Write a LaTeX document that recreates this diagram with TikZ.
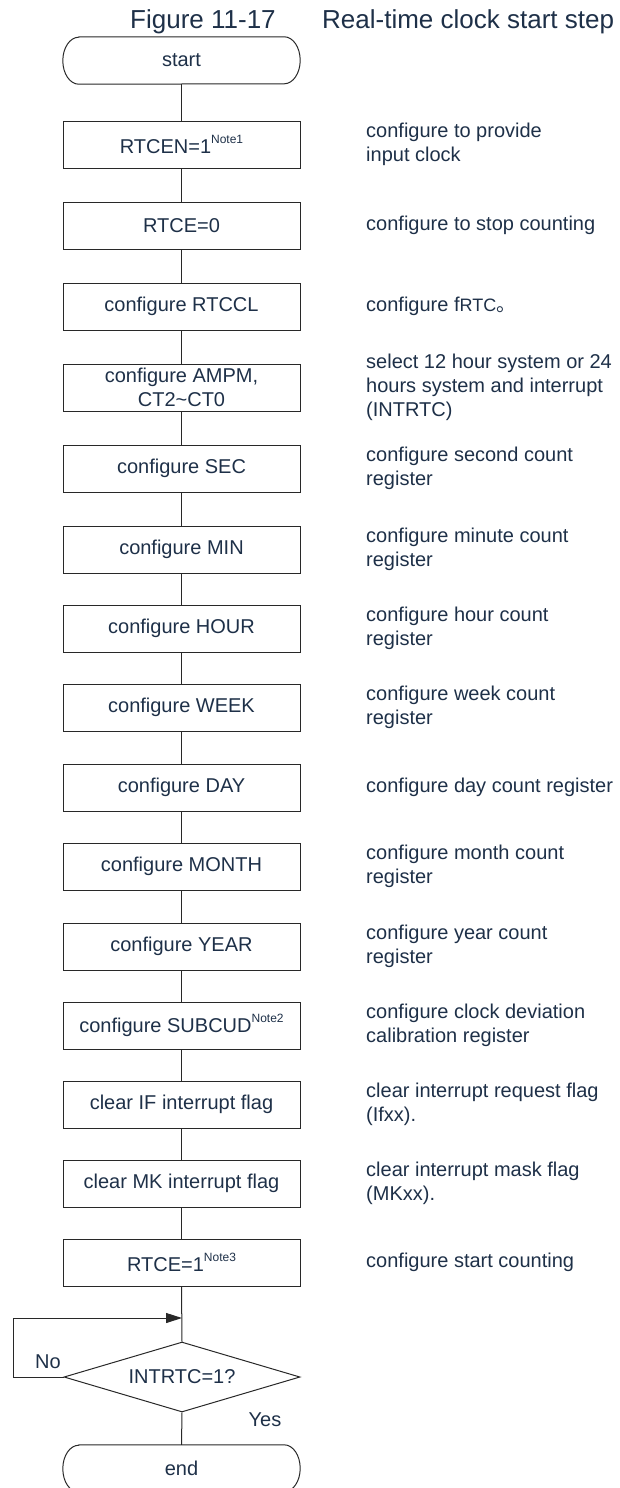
\documentclass[tikz,border=0pt]{standalone}
\usepackage{fontspec}
\setmainfont{Liberation Sans}
\newfontfamily\cjk{Noto Sans CJK SC}
\usetikzlibrary{shapes.geometric,arrows.meta}
\definecolor{txt}{RGB}{30,48,72}
\definecolor{ln}{RGB}{40,40,40}
\newcommand\notemark[1]{\raisebox{10pt}{\fontsize{12}{12}\selectfont #1}}
\newcommand\termshape[1]{%
  \draw[draw=ln,line width=1pt] ([xshift=16pt]#1.north west) -- ([xshift=-16pt]#1.north east)
    arc[start angle=90,end angle=-90,x radius=16pt,y radius=23.5pt]
    -- ([xshift=16pt]#1.south west)
    arc[start angle=270,end angle=90,x radius=16pt,y radius=23.5pt] -- cycle;}
\begin{document}
\begin{tikzpicture}[x=1pt,y=-1pt,
  every node/.style={text=txt, font=\fontsize{20}{24}\selectfont},
  proc/.style={draw=ln, line width=1pt, minimum width=237pt, minimum height=47pt, inner sep=0pt, align=center},
  term/.style={minimum width=237pt, minimum height=47pt, inner sep=0pt},
  desc/.style={anchor=west, inner sep=0pt, align=left},
  conn/.style={draw=ln, line width=1pt},
  ttl/.style={anchor=base west, inner sep=0pt, font=\fontsize{26}{30}\selectfont},
]
\useasboundingbox (0,0) rectangle (619,1488);

\node[ttl] (t1) at (130,29) {Figure 11-17};
\node[ttl] (t2) at (322,29) {Real-time clock start step};

\node[term] (start) at (181.5,60.5) {start};
\termshape{start}

\node[proc] (b1)  at (181.5,144.5)  {RTCEN=1\notemark{Note1}};
\node[proc] (b2)  at (181.5,225.5)  {RTCE=0};
\node[proc] (b3)  at (181.5,306.5)  {configure RTCCL};
\node[proc] (b4)  at (181.5,387.5)  {configure AMPM,\\CT2\textasciitilde CT0};
\node[proc] (b5)  at (181.5,468.5)  {configure SEC};
\node[proc] (b6)  at (181.5,549.5)  {configure MIN};
\node[proc] (b7)  at (181.5,628.5)  {configure HOUR};
\node[proc] (b8)  at (181.5,707.5)  {configure WEEK};
\node[proc] (b9)  at (181.5,787.5)  {configure DAY};
\node[proc] (b10) at (181.5,866.5)  {configure MONTH};
\node[proc] (b11) at (181.5,946.5)  {configure YEAR};
\node[proc] (b12) at (181.5,1025.5) {configure SUBCUD\notemark{Note2}};
\node[proc] (b13) at (181.5,1104.5) {clear IF interrupt flag};
\node[proc] (b14) at (181.5,1183.5) {clear MK interrupt flag};
\node[proc] (b15) at (181.5,1262.5) {RTCE=1\notemark{Note3}};

\node[draw=ln, line width=1pt, shape=diamond, aspect=3.37, minimum width=236pt, minimum height=70pt, inner sep=0pt] (dec) at (182,1377) {INTRTC=1?};

\node[term] (end) at (181.5,1468.5) {end};
\termshape{end}

\node[desc] (d1)  at (366,144.5)  {configure to provide\\input clock};
\node[desc] (d2)  at (366,225.5)  {configure to stop counting};
\node[desc] (d3)  at (366,306.5)  {configure f{\fontsize{18}{24}\selectfont RTC}{\cjk 。}};
\node[desc] (d4)  at (366,387.5)  {select 12 hour system or 24\\hours system and interrupt\\(INTRTC)};
\node[desc] (d5)  at (366,468.5)  {configure second count\\register};
\node[desc] (d6)  at (366,549.5)  {configure minute count\\register};
\node[desc] (d7)  at (366,628.5)  {configure hour count\\register};
\node[desc] (d8)  at (366,707.5)  {configure week count\\register};
\node[desc] (d9)  at (366,787.5)  {configure day count register};
\node[desc] (d10) at (366,866.5)  {configure month count\\register};
\node[desc] (d11) at (366,946.5)  {configure year count\\register};
\node[desc] (d12) at (366,1025.5) {configure clock deviation\\calibration register};
\node[desc] (d13) at (366,1104.5) {clear interrupt request flag\\(Ifxx).};
\node[desc] (d14) at (366,1183.5) {clear interrupt mask flag\\(MKxx).};
\node[desc] (d15) at (366,1262.5) {configure start counting};

\draw[conn] (start.south) -- (b1.north);
\foreach \a/\b in {b1/b2,b2/b3,b3/b4,b4/b5,b5/b6,b6/b7,b7/b8,b8/b9,b9/b10,b10/b11,b11/b12,b12/b13,b13/b14,b14/b15}
  \draw[conn] (\a.south) -- (\b.north);
\draw[conn] (b15.south) -- (dec.north);
\draw[conn] (dec.south) -- (end.north);

\coordinate (lp) at (13,1318);
\coordinate (mj) at (182,1318);
\draw[conn, -{Triangle[length=16pt,width=10pt]}] (dec.west) -| (lp) -- (mj);

\node[inner sep=0pt] (no) at (48,1362) {No};
\node[inner sep=0pt] (yes) at (265,1420) {Yes};
\end{tikzpicture}
\end{document}
